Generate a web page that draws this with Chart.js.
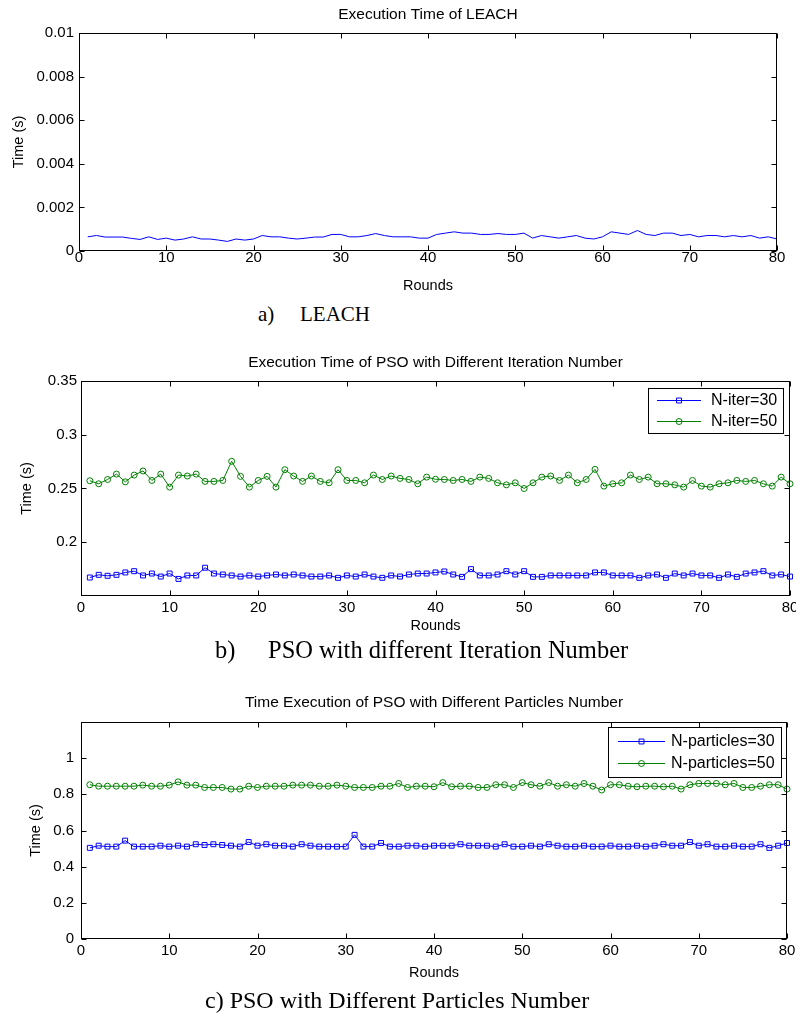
<!DOCTYPE html>
<html><head><meta charset="utf-8">
<script src="https://cdn.jsdelivr.net/npm/chart.js@4.4.1/dist/chart.umd.min.js"></script>
<style>
html,body{margin:0;padding:0;overflow:hidden;background:#fff;width:796px;height:1014px;position:relative;}
canvas{position:absolute;left:0;}
.cap{position:absolute;font-family:"Liberation Serif","Times New Roman",serif;font-size:24px;white-space:pre;line-height:1;color:#000}
</style></head><body>
<canvas id="ca" width="830" height="300" style="top:0px"></canvas>
<canvas id="cb" width="830" height="300" style="top:340px"></canvas>
<canvas id="cc" width="830" height="310" style="top:680px"></canvas>
<div class="cap" style="left:258px;top:304px;font-size:21px">a)</div>
<div class="cap" style="left:300px;top:304px;font-size:21px">LEACH</div>
<div class="cap" style="left:215px;top:638px;font-size:24.5px">b)</div>
<div class="cap" style="left:268px;top:638px;font-size:24.5px">PSO with different Iteration Number</div>
<div class="cap" style="left:205px;top:988px;font-size:24px">c) PSO with Different Particles Number</div>
<script>
const rounds = [1,2,3,4,5,6,7,8,9,10,11,12,13,14,15,16,17,18,19,20,21,22,23,24,25,26,27,28,29,30,31,32,33,34,35,36,37,38,39,40,41,42,43,44,45,46,47,48,49,50,51,52,53,54,55,56,57,58,59,60,61,62,63,64,65,66,67,68,69,70,71,72,73,74,75,76,77,78,79,80];

const leachTime = [0.00065,0.00071,0.00064,0.00064,0.00064,0.00058,0.00053,0.00065,0.00053,0.00059,
0.00050,0.00055,0.00065,0.00055,0.00055,0.00050,0.00044,0.00055,0.00050,0.00055,
0.00071,0.00065,0.00065,0.00059,0.00055,0.00059,0.00064,0.00064,0.00076,0.00076,
0.00065,0.00065,0.00071,0.00080,0.00071,0.00065,0.00065,0.00065,0.00059,0.00059,
0.00076,0.00082,0.00088,0.00082,0.00082,0.00076,0.00076,0.00080,0.00076,0.00076,
0.00082,0.00059,0.00071,0.00065,0.00059,0.00065,0.00071,0.00059,0.00055,0.00065,
0.00088,0.00082,0.00076,0.00094,0.00076,0.00071,0.00082,0.00082,0.00071,0.00076,
0.00065,0.00071,0.00071,0.00065,0.00071,0.00065,0.00071,0.00059,0.00065,0.00055];

const iter30 = [0.1672,0.1697,0.1688,0.1697,0.1719,0.1731,0.1691,0.1709,0.1681,0.1709,
0.1659,0.1691,0.1691,0.1763,0.1709,0.1700,0.1691,0.1681,0.1691,0.1681,
0.1691,0.1700,0.1691,0.1700,0.1691,0.1681,0.1681,0.1691,0.1669,0.1691,
0.1681,0.1700,0.1681,0.1669,0.1691,0.1681,0.1700,0.1709,0.1709,0.1719,
0.1728,0.1700,0.1678,0.1750,0.1691,0.1691,0.1700,0.1731,0.1700,0.1731,
0.1678,0.1678,0.1691,0.1691,0.1691,0.1691,0.1691,0.1719,0.1719,0.1691,
0.1691,0.1691,0.1669,0.1691,0.1700,0.1669,0.1709,0.1691,0.1709,0.1691,
0.1691,0.1669,0.1700,0.1678,0.1709,0.1719,0.1731,0.1691,0.1700,0.1681];

const iter50 = [0.2572,0.2544,0.2584,0.2634,0.2562,0.2625,0.2663,0.2575,0.2634,0.2513,
0.2625,0.2616,0.2634,0.2566,0.2566,0.2575,0.2753,0.2613,0.2513,0.2575,
0.2613,0.2513,0.2675,0.2616,0.2566,0.2616,0.2566,0.2553,0.2675,0.2575,
0.2575,0.2553,0.2625,0.2584,0.2616,0.2594,0.2584,0.2544,0.2606,0.2586,
0.2584,0.2575,0.2584,0.2566,0.2606,0.2594,0.2553,0.2534,0.2553,0.2500,
0.2553,0.2606,0.2616,0.2575,0.2625,0.2553,0.2584,0.2678,0.2522,0.2544,
0.2553,0.2625,0.2584,0.2606,0.2544,0.2544,0.2534,0.2513,0.2575,0.2522,
0.2513,0.2544,0.2553,0.2575,0.2566,0.2575,0.2544,0.2522,0.2606,0.2544];

const part30 = [0.504,0.516,0.511,0.511,0.544,0.511,0.511,0.511,0.516,0.511,
0.516,0.511,0.524,0.520,0.524,0.520,0.516,0.511,0.536,0.516,
0.524,0.516,0.516,0.511,0.524,0.516,0.511,0.511,0.511,0.511,
0.576,0.511,0.511,0.531,0.511,0.511,0.516,0.516,0.511,0.516,
0.516,0.516,0.524,0.516,0.516,0.516,0.511,0.524,0.511,0.511,
0.516,0.511,0.524,0.516,0.511,0.511,0.516,0.511,0.511,0.516,
0.511,0.511,0.516,0.511,0.516,0.524,0.516,0.516,0.536,0.516,
0.524,0.511,0.511,0.516,0.511,0.511,0.524,0.504,0.516,0.531];

const part50 = [0.853,0.845,0.845,0.845,0.845,0.845,0.851,0.845,0.845,0.851,
0.869,0.851,0.851,0.838,0.838,0.838,0.829,0.829,0.845,0.838,
0.845,0.845,0.845,0.851,0.851,0.851,0.845,0.845,0.851,0.845,
0.838,0.838,0.838,0.845,0.845,0.860,0.838,0.845,0.845,0.842,
0.865,0.842,0.845,0.845,0.838,0.838,0.853,0.853,0.838,0.865,
0.853,0.845,0.865,0.845,0.853,0.845,0.860,0.845,0.824,0.853,
0.853,0.845,0.842,0.845,0.845,0.842,0.845,0.829,0.853,0.860,
0.860,0.860,0.853,0.860,0.838,0.838,0.845,0.853,0.853,0.829];

const xTickValues = [0,10,20,30,40,50,60,70,80];
const xTickLabels = ['0','10','20','30','40','50','60','70','80'];
const leachTickValues = [0,0.002,0.004,0.006,0.008,0.01];
const leachTickLabels = ['0','0.002','0.004','0.006','0.008','0.01'];
const iterTickValues = [0.2,0.25,0.3,0.35];
const iterTickLabels = ['0.2','0.25','0.3','0.35'];
const partTickValues = [0,0.2,0.4,0.6,0.8,1];
const partTickLabels = ['0','0.2','0.4','0.6','0.8','1'];

const BLUE = 'rgb(0,0,255)', GREEN = 'rgb(0,128,0)';
const SANS = '"Liberation Sans", Arial, sans-serif';
const LEGEND_FONT = '16px "Liberation Sans", Arial, sans-serif';

const framePlugin = {
  id: 'frame',
  afterDraw(chart, args, opts) {
    const {ctx, chartArea: a, scales: {x, y}} = chart;
    ctx.save();
    ctx.strokeStyle = '#000'; ctx.lineWidth = 1;
    const l = Math.round(a.left) + 0.5, r = Math.round(a.right) - 0.5;
    const t = Math.round(a.top) + 0.5, b = Math.round(a.bottom) - 0.5;
    ctx.strokeRect(l, t, r - l, b - t);
    const tl = 5;
    ctx.beginPath();
    x.ticks.forEach(tk => {
      const px = Math.round(x.getPixelForValue(tk.value)) + 0.5;
      ctx.moveTo(px, b); ctx.lineTo(px, b - tl);
      ctx.moveTo(px, t); ctx.lineTo(px, t + tl);
    });
    y.ticks.forEach(tk => {
      const py = Math.round(y.getPixelForValue(tk.value)) + 0.5;
      ctx.moveTo(l, py); ctx.lineTo(l + tl, py);
      ctx.moveTo(r, py); ctx.lineTo(r - tl, py);
    });
    ctx.stroke();
    const lg = opts.legend;
    if (lg) {
      const bx = Math.round(a.right - lg.right - lg.w), by = Math.round(a.top + lg.top);
      ctx.fillStyle = '#fff';
      ctx.fillRect(bx, by, lg.w, lg.h);
      ctx.strokeStyle = '#000'; ctx.lineWidth = 1;
      ctx.strokeRect(bx + 0.5, by + 0.5, lg.w, lg.h);
      chart.data.datasets.forEach((ds, i) => {
        const yy = Math.round(by + lg.rows[i]) + 0.5;
        ctx.strokeStyle = ds.borderColor; ctx.lineWidth = ds.borderWidth;
        ctx.beginPath(); ctx.moveTo(bx + lg.x0, yy); ctx.lineTo(bx + lg.x0 + lg.len, yy); ctx.stroke();
        ctx.fillStyle = 'rgba(0,0,0,0)';
        Chart.helpers.drawPoint(ctx, {pointStyle: ds.pointStyle, radius: ds.pointRadius, rotation: 0, borderWidth: 1},
          bx + lg.x0 + lg.len / 2, yy);
        ctx.fillStyle = '#000';
        ctx.font = LEGEND_FONT; ctx.textBaseline = 'middle'; ctx.textAlign = 'left';
        ctx.fillText(ds.label, bx + lg.tx, yy);
      });
    }
    ctx.restore();
  }
};

function build(id, geo, datasets, yMin, yMax, yVals, yLabels, titleText, legend) {
  const W = 830, H = geo.H;
  const tSize = 15.5, tLH = tSize * 1.2;
  const aSize = 14.5, aLH = aSize * 1.2;
  const kSize = 15;
  const xH = geo.roundsC + aLH / 2 + 4 - geo.Bp;
  new Chart(document.getElementById(id), {
    type: 'line',
    data: { labels: rounds, datasets },
    options: {
      responsive: false, animation: false, devicePixelRatio: 1,
      layout: { padding: { top: 0, left: 0, right: W - geo.R, bottom: H - geo.Bp - xH } },
      plugins: {
        legend: { display: false }, tooltip: { enabled: false },
        title: { display: true, text: titleText, color: '#000', fullSize: false,
          font: { family: SANS, size: tSize, weight: 'normal', lineHeight: 1.2 },
          padding: { top: geo.titleC - tLH / 2, bottom: geo.Tp - geo.titleC - tLH / 2 } },
        frame: { legend }
      },
      scales: {
        x: {
          type: 'linear', min: 0, max: 80,
          afterBuildTicks: s => { s.ticks = xTickValues.map(v => ({ value: v })); },
          afterFit: s => { s.height = xH; },
          grid: { display: false, drawTicks: false }, border: { display: false },
          ticks: { callback: (v, i) => xTickLabels[i], color: '#000', maxRotation: 0, autoSkip: false,
            font: { family: SANS, size: kSize, lineHeight: 1 }, padding: geo.xTickOff - kSize / 2 },
          title: { display: true, text: 'Rounds', color: '#000',
            font: { family: SANS, size: aSize, lineHeight: 1.2 }, padding: { top: 0, bottom: 4 } }
        },
        y: {
          type: 'linear', min: yMin, max: yMax,
          afterBuildTicks: s => { s.ticks = yVals.map(v => ({ value: v })); },
          afterFit: s => { s.width = geo.L; },
          grid: { display: false, drawTicks: false }, border: { display: false },
          ticks: { callback: (v, i) => yLabels[i], color: '#000', autoSkip: false,
            font: { family: SANS, size: kSize, lineHeight: 1.2 }, padding: geo.yTickPad },
          title: { display: true, text: 'Time (s)', color: '#000',
            font: { family: SANS, size: aSize, lineHeight: 1.2 }, padding: { top: geo.ytitleC - aLH / 2, bottom: 0 } }
        }
      }
    },
    plugins: [framePlugin]
  });
}

const pointDs = (label, data, color, style, r) => ({
  label, data, borderColor: color, borderWidth: 1, tension: 0, clip: false,
  pointStyle: style, pointRadius: r, pointBorderWidth: 1, pointBorderColor: color,
  pointBackgroundColor: 'rgba(0,0,0,0)', pointHoverRadius: r
});

build('ca', { H: 300, L: 79, R: 777, Tp: 33, Bp: 251, titleC: 15, roundsC: 286, ytitleC: 19, yTickPad: 5, xTickOff: 6.5 },
  [{ label: 'LEACH', data: leachTime, borderColor: BLUE, borderWidth: 1, pointRadius: 0, tension: 0 }],
  0, 0.01, leachTickValues, leachTickLabels, 'Execution Time of LEACH', null);

build('cb', { H: 300, L: 81, R: 790, Tp: 41, Bp: 256, titleC: 23, roundsC: 286, ytitleC: 26.5, yTickPad: 4, xTickOff: 12 },
  [pointDs('N-iter=30', iter30, BLUE, 'rect', 3.5), pointDs('N-iter=50', iter50, GREEN, 'circle', 3)],
  0.15, 0.35, iterTickValues, iterTickLabels, 'Execution Time of PSO with Different Iteration Number',
  { right: 7, top: 7, w: 135, h: 45, x0: 9, len: 44, tx: 63, rows: [12, 32.7] });

build('cc', { H: 310, L: 81, R: 787, Tp: 42, Bp: 259, titleC: 23, roundsC: 293, ytitleC: 36.3, yTickPad: 7, xTickOff: 12 },
  [pointDs('N-particles=30', part30, BLUE, 'rect', 3.5), pointDs('N-particles=50', part50, GREEN, 'circle', 3)],
  0, 1.2, partTickValues, partTickLabels, 'Time Execution of PSO with Different Particles Number',
  { right: 6, top: 5, w: 173, h: 50, x0: 10, len: 47, tx: 63, rows: [14, 36] });
</script>
</body></html>
